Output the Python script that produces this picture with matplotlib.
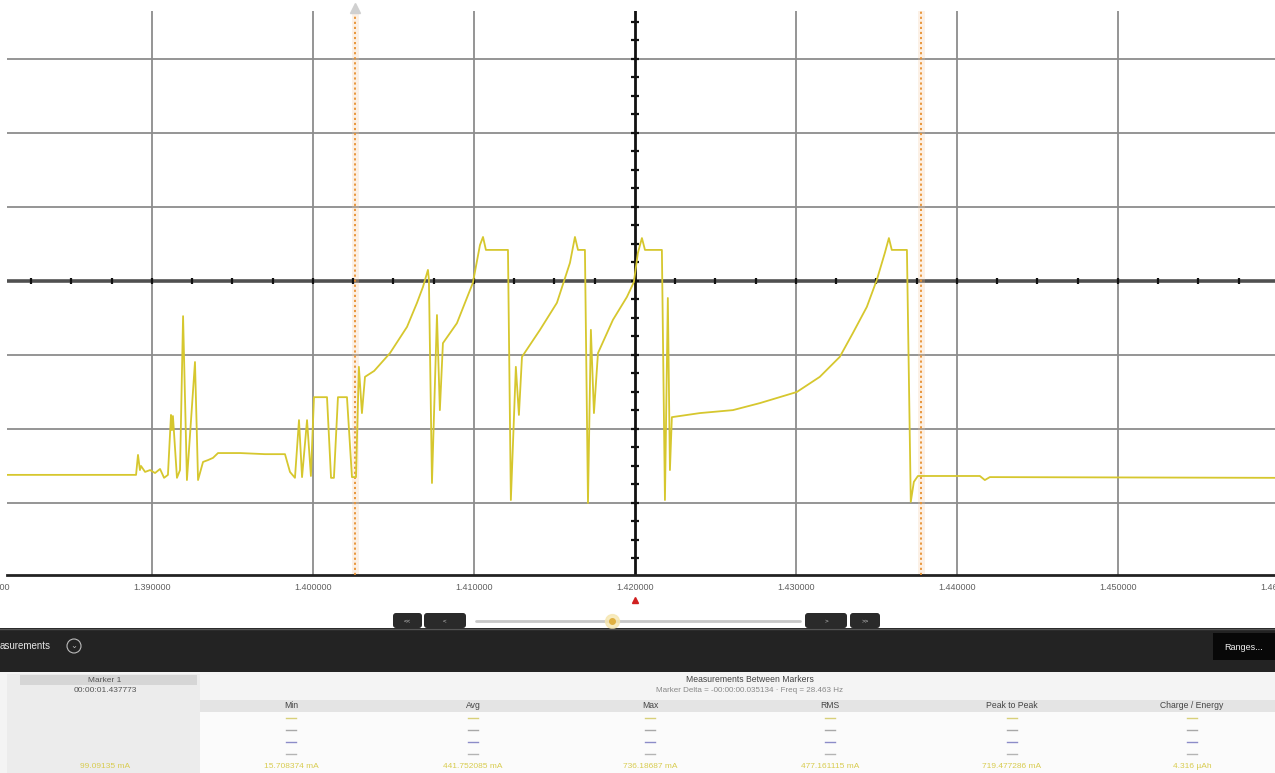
import matplotlib
matplotlib.use('Agg')
import matplotlib.pyplot as plt
from matplotlib.patches import Rectangle, FancyBboxPatch, Circle
import numpy as np

W, H = 1275, 773

# ---- trace data (seconds, mA) ----
time_s = [1.38100, 1.38901, 1.38913, 1.38925, 1.38932, 1.38957, 1.38988, 1.39019,
          1.39050, 1.39075, 1.39099, 1.39118, 1.39124, 1.39130, 1.39155, 1.39174,
          1.39193, 1.39217, 1.39267, 1.39286, 1.39317, 1.39348, 1.39379, 1.39410,
          1.39547, 1.39702, 1.39826, 1.39857, 1.39888, 1.39913, 1.39932, 1.39963,
          1.39987, 1.40006, 1.40087, 1.40112, 1.40130, 1.40155, 1.40211, 1.40242,
          1.40267, 1.40285, 1.40304, 1.40323, 1.40380, 1.40478, 1.40584, 1.40646,
          1.40683, 1.40714, 1.40720, 1.40739, 1.40770, 1.40788, 1.40807, 1.40894,
          1.40993, 1.41037, 1.41056, 1.41074, 1.41211, 1.41229, 1.41260, 1.41279,
          1.41298, 1.41410, 1.41515, 1.41596, 1.41627, 1.41646, 1.41689, 1.41708,
          1.41726, 1.41745, 1.41770, 1.41863, 1.41950, 1.41993, 1.42018, 1.42043,
          1.42062, 1.42167, 1.42186, 1.42204, 1.42217, 1.42229, 1.42403, 1.42608,
          1.42776, 1.43005, 1.43148, 1.43272, 1.43353, 1.43440, 1.43502, 1.43552,
          1.43577, 1.43595, 1.43689, 1.43713, 1.43732, 1.43757, 1.44142, 1.44173,
          1.44204, 1.45974]
current_ma = [76, 76, 130, 89, 100, 84, 89, 81,
              92, 68, 76, 238, 197, 235, 68, 89,
              505, 62, 381, 62, 111, 116, 122, 135,
              135, 132, 132, 84, 68, 224, 70, 224,
              73, 286, 286, 68, 68, 286, 286, 70,
              70, 368, 243, 341, 357, 405, 476, 541,
              584, 630, 603, 54, 508, 251, 432, 486,
              595, 697, 719, 684, 684, 8, 368, 238,
              395, 468, 541, 649, 719, 684, 684, 0,
              468, 243, 405, 495, 557, 597, 676, 716,
              684, 684, 8, 554, 89, 232, 243, 251,
              270, 300, 341, 395, 459, 530, 603, 676,
              716, 684, 684, 3, 57, 73, 73, 62,
              70, 68]

x_tick_values = [1.38, 1.39, 1.40, 1.41, 1.42, 1.43, 1.44, 1.45, 1.46]
x_tick_labels = ['1.380000', '1.390000', '1.400000', '1.410000', '1.420000',
                 '1.430000', '1.440000', '1.450000', '1.460000']
y_grid_ma = [0, 200, 400, 800, 1000, 1200]
y_center_ma = 600
x_center_s = 1.42
marker_times = [1.402639, 1.437773]

measure_names = ['Min', 'Avg', 'Max', 'RMS', 'Peak to Peak', 'Charge / Energy']
measure_values = ['15.708374 mA', '441.752085 mA', '736.18687 mA',
                  '477.161115 mA', '719.477286 mA', '4.316 µAh']
marker1_time = '00:00:01.437773'
marker1_value = '99.09135 mA'
delta_text = 'Marker Delta = -00:00:00.035134 · Freq = 28.463 Hz'

plt.rcParams['font.family'] = ['Liberation Sans', 'DejaVu Sans']

fig = plt.figure(figsize=(W / 100, H / 100), dpi=100)
fig.patch.set_facecolor('white')

# ---- UI layer in pixel coordinates ----
ui = fig.add_axes([0, 0, 1, 1])
ui.set_xlim(0, W)
ui.set_ylim(H, 0)
ui.axis('off')
ui.patch.set_visible(False)

def rect(x, y, w, h, fc, ec='none', lw=0, z=1, rounded=False):
    if rounded:
        p = FancyBboxPatch((x, y), w, h, boxstyle='round,pad=0,rounding_size=3',
                           fc=fc, ec=ec, lw=lw, zorder=z)
    else:
        p = Rectangle((x, y), w, h, fc=fc, ec=ec, lw=lw, zorder=z)
    ui.add_patch(p)

# navigation row
for (bx, bw, lab) in [(393, 29, '<<'), (424, 42, '<'), (805, 42, '>'), (850, 30, '>>')]:
    rect(bx, 613, bw, 15, '#2a2a2a', rounded=True, z=3)
    ui.text(bx + bw / 2, 621, lab, color='#cccccc', fontsize=4.5, ha='center', va='center', zorder=4)
ui.plot([476, 800], [621, 621], color='#c8c8c8', lw=2, solid_capstyle='round', zorder=3)
ui.plot([612], [621], marker='o', ms=10, color='#f6e6b0', alpha=0.8, zorder=3)
ui.plot([612], [621], marker='o', ms=4, color='#e0b040', zorder=4)
ui.plot([635], [600], marker='^', ms=4.5, color='#d02020', zorder=4, ls='none')

# dark toolbar
rect(0, 628, W, 44, '#232323', z=2)
ui.plot([0, W], [628.5, 628.5], color='#555555', lw=1, zorder=3)
ui.text(0, 646, 'asurements', color='#e6e6e6', fontsize=7, ha='left', va='center', zorder=4)
ui.add_patch(Circle((74, 646), 7, fc='none', ec='#bbbbbb', lw=0.8, zorder=4))
ui.text(74, 646.5, '⌄', color='#bbbbbb', fontsize=6, ha='center', va='center', zorder=4)
rect(1213, 633, 62, 27, '#080808', z=3)
ui.text(1244, 647, 'Ranges...', color='#f0f0f0', fontsize=6.5, ha='center', va='center', zorder=4)

# table
rect(0, 672, W, 101, '#f4f4f4', z=2)
rect(7, 674, 193, 99, '#ececec', z=2)
rect(20, 675, 177, 10, '#d6d6d6', z=3)
ui.text(105, 680, 'Marker 1', color='#555555', fontsize=6, ha='center', va='center', zorder=4)
ui.text(105, 690, marker1_time, color='#555555', fontsize=6, ha='center', va='center', zorder=4)
ui.text(105, 767, marker1_value, color='#d8cc50', fontsize=6, ha='center', va='center', zorder=4)
ui.text(750, 680, 'Measurements Between Markers', color='#444444', fontsize=6.2,
        ha='center', va='center', zorder=4)
ui.text(750, 690, delta_text, color='#888888', fontsize=5.8, ha='center', va='center', zorder=4)
rect(200, 700, W - 200, 12, '#e4e4e4', z=2)
rect(200, 712, W - 200, 61, '#fbfbfb', z=2)
col_x = [291, 473, 650, 830, 1012, 1192]
dash_colors = ['#d8d07a', '#a8a8a8', '#8c8cc8', '#b4b4b4']
for cx, name, val in zip(col_x, measure_names, measure_values):
    ui.text(cx, 706, name, color='#444444', fontsize=6.2, ha='center', va='center', zorder=4)
    for k, dc in enumerate(dash_colors):
        ui.plot([cx - 5, cx + 5], [718 + 12 * k, 718 + 12 * k], color=dc, lw=1, zorder=4)
    ui.text(cx, 767, val, color='#d8cc50', fontsize=6, ha='center', va='center', zorder=4)

# ---- main scope axes ----
ax = fig.add_axes([7 / W, 1 - 575 / H, (W - 7) / W, (575 - 11) / H])
ax.set_xlim(1.380994, 1.459752)
ax.set_ylim(-194.6, 1329.7)
for s in ['top', 'left', 'right']:
    ax.spines[s].set_visible(False)
ax.spines['bottom'].set_color('#222222')
ax.spines['bottom'].set_linewidth(2)
ax.set_xticks([])
ax.set_yticks([])

for xv in x_tick_values:
    if xv != x_center_s:
        ax.axvline(xv, color='#8c8c8c', lw=1.3, zorder=1)
for yv in y_grid_ma:
    ax.axhline(yv, color='#8c8c8c', lw=1.3, zorder=1)

# central axes with minor ticks
ax.axhline(y_center_ma, color='#505050', lw=2.6, zorder=2)
ax.axvline(x_center_s, color='#111111', lw=2, zorder=2)
minor_x = np.arange(1.38, 1.4601, 0.0025)
ax.plot(minor_x, np.full_like(minor_x, y_center_ma), ls='none', marker='|', ms=4.5,
        mew=1.6, color='#111111', zorder=3)
minor_y = np.arange(-150, 1330, 50)
ax.plot(np.full_like(minor_y, x_center_s, dtype=float), minor_y, ls='none', marker='_',
        ms=6, mew=1.6, color='#111111', zorder=3)

# marker lines
for mt in marker_times:
    ax.axvline(mt, color='#f6c79a', lw=5, alpha=0.25, zorder=2)
    ax.axvline(mt, color='#e89030', lw=1.3, ls=(0, (1.2, 1.6)), zorder=4)
ax.plot([marker_times[0]], [1.006], marker='^', ms=6.5, color='#d0d0d0', ls='none',
        transform=ax.get_xaxis_transform(), clip_on=False, zorder=5)

# trace
ax.plot(time_s, current_ma, color='#d6c72e', lw=1.3, zorder=5)

# tick labels (edge labels are partly outside the window, as on screen)
for xv, lab in zip(x_tick_values, x_tick_labels):
    ax.text(xv, -0.023, lab, transform=ax.get_xaxis_transform(), ha='center', va='center',
            fontsize=6.5, color='#606060', clip_on=False)

fig.savefig('out.png', dpi=100, facecolor='white')
